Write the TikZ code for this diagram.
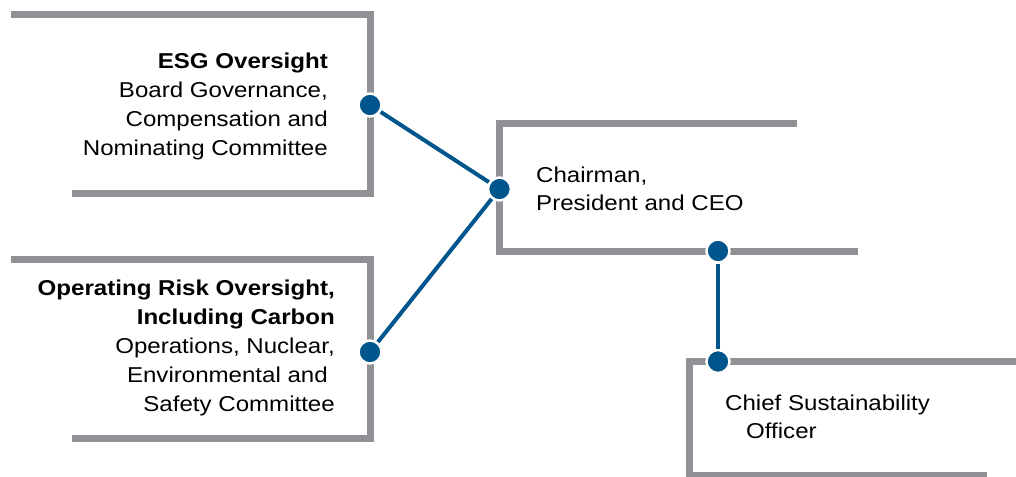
\documentclass[tikz,border=0pt]{standalone}
\usepackage{fontspec}
\setmainfont{Liberation Sans}[FakeStretch=1.12]
\definecolor{rulegray}{HTML}{8F9194}
\definecolor{linkblue}{HTML}{00558C}

\begin{document}
\begin{tikzpicture}[x=1pt,y=-1pt,
  frame/.style={rulegray, line width=7pt, line join=miter},
  link/.style={linkblue, line width=4pt},
  dot/.style={circle, fill=linkblue, draw=white, line width=2.5pt,
              minimum size=23pt, inner sep=0pt},
  boxtext/.style={inner sep=0pt, text=black,
                  font=\fontsize{21.5}{29}\selectfont}
]
\useasboundingbox (0,0) rectangle (1016,476);

% open frames around each entry
\draw[frame] (11,14.5) -- (370,14.5) -- (370,193) -- (72,193);
\draw[frame] (11,259.5) -- (370,259.5) -- (370,438) -- (72,438);
\draw[frame] (797,123.5) -- (499.5,123.5) -- (499.5,251) -- (858,251);
\draw[frame] (1020,361.5) -- (689.5,361.5) -- (689.5,475) -- (987,475);

% entry texts
\node[boxtext, anchor=north east, align=right] (esg) at (328,52.5)
  {\textbf{ESG Oversight}\\Board Governance,\\Compensation and\\Nominating Committee};
\node[boxtext, anchor=north east, align=right] (ops) at (335,279.5)
  {\textbf{Operating Risk Oversight,}\\\textbf{Including Carbon}\\Operations, Nuclear,\\Environmental and\rule{7pt}{0pt}\\Safety Committee};
\node[boxtext, anchor=north west, align=left,
      font=\fontsize{21.5}{28}\selectfont] (ceo) at (536,166.5)
  {Chairman,\\President and CEO};
\node[boxtext, anchor=north west, align=left,
      font=\fontsize{21.5}{28}\selectfont] (cso) at (725,394.5)
  {Chief Sustainability\\\hspace*{21pt}Officer};

% connection points
\node[dot] (esgdot) at (370,105) {};
\node[dot] (opsdot) at (370,352) {};
\node[dot] (ceoin) at (499.5,189) {};
\node[dot] (ceoout) at (718,251) {};
\node[dot] (csoin) at (718,361.5) {};

% reporting lines
\draw[link] (esgdot) -- (ceoin);
\draw[link] (opsdot) -- (ceoin);
\draw[link] (ceoout) -- (csoin);
\end{tikzpicture}
\end{document}
